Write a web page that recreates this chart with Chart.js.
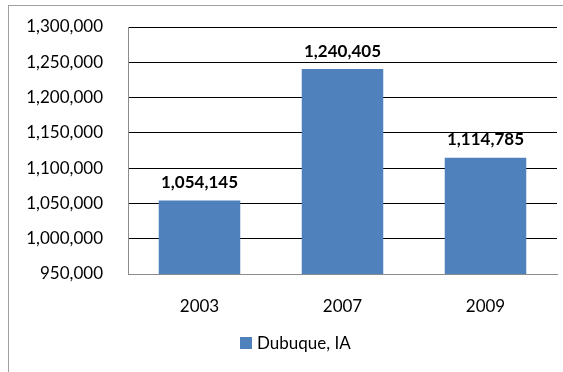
<!DOCTYPE html>
<html>
<head>
<meta charset="utf-8">
<script src="https://cdn.jsdelivr.net/npm/chart.js@4/dist/chart.umd.min.js"></script>
<style>
  html, body { margin: 0; padding: 0; background: #fff; overflow: hidden; }
  #wrap { position: relative; width: 563px; height: 372px; }
</style>
</head>
<body>
<div id="wrap"><canvas id="myChart" width="563" height="372"></canvas></div>
<script>
'use strict';

let years = ['2003', '2007', '2009'];
let visitors = [1054145, 1240405, 1114785];
let seriesName = 'Dubuque, IA';
let yMin = 950000;
let yMax = 1300000;
let yStep = 50000;

let fontName = 'Lato, "Open Sans", sans-serif';
let barBlue = '#4f81bd';

function fmt(n){
    return n.toLocaleString('en-US');
}

// grey frame round the whole chart
let frame = {
    id: 'frame',
    beforeDraw(chart){
        let ctx = chart.ctx;
        ctx.save();
        ctx.strokeStyle = '#a0a0a0';
        ctx.lineWidth = 1;
        ctx.strokeRect(8.5, 5.5, 600, 400);
        ctx.restore();
    }
};

// bold value over each bar
let barValues = {
    id: 'barValues',
    afterDatasetsDraw(chart){
        let ctx = chart.ctx;
        let meta = chart.getDatasetMeta(0);
        ctx.save();
        ctx.font = 'bold 17px ' + fontName;
        ctx.fillStyle = '#000';
        ctx.textAlign = 'center';
        ctx.textBaseline = 'middle';
        meta.data.forEach(function(bar, i){
            ctx.fillText(fmt(chart.data.datasets[0].data[i]), bar.x, bar.y - 18);
        });
        ctx.restore();
    }
};

// legend under the axis
let bottomLegend = {
    id: 'bottomLegend',
    afterDraw(chart){
        let ctx = chart.ctx;
        let ds = chart.data.datasets[0];
        ctx.save();
        ctx.fillStyle = ds.backgroundColor;
        ctx.fillRect(240, 337, 12, 12);
        ctx.font = '17px ' + fontName;
        ctx.fillStyle = '#000';
        ctx.textAlign = 'left';
        ctx.textBaseline = 'middle';
        ctx.fillText(ds.label, 257, 344);
        ctx.restore();
    }
};

let ctx = document.getElementById('myChart').getContext('2d');
let chart = new Chart(ctx, {
    type: 'bar',
    data: {
        labels: years,
        datasets: [{
            label: seriesName,
            data: visitors,
            backgroundColor: barBlue,
            borderWidth: 0,
            barPercentage: 0.57,
            categoryPercentage: 1
        }]
    },
    options: {
        responsive: false,
        animation: false,
        devicePixelRatio: 1,
        layout: { padding: { left: 0, top: 27, right: 6, bottom: 0 } },
        plugins: {
            legend: { display: false },
            tooltip: { enabled: false }
        },
        scales: {
            x: {
                grid: { display: false, drawTicks: false },
                border: { color: '#8c8c8c', width: 1 },
                ticks: { color: '#000', padding: 22, font: { family: fontName, size: 17 } },
                afterFit(scale){ scale.height = 98; }
            },
            y: {
                min: yMin,
                max: yMax,
                grid: {
                    drawTicks: false,
                    color(c){ return c.tick && c.tick.value === yMin ? 'rgba(0,0,0,0)' : '#000'; },
                    lineWidth: 1
                },
                border: { color: '#8c8c8c', width: 1 },
                ticks: {
                    stepSize: yStep,
                    color: '#000',
                    padding: 25,
                    font: { family: fontName, size: 17 },
                    callback(v){ return fmt(v); }
                },
                afterFit(scale){
                    // keep the top gridline flush with the layout padding
                    scale.width = 128;
                    scale.paddingTop = 0;
                    scale.paddingBottom = 0;
                }
            }
        }
    },
    plugins: [frame, barValues, bottomLegend]
});
</script>
</body>
</html>
